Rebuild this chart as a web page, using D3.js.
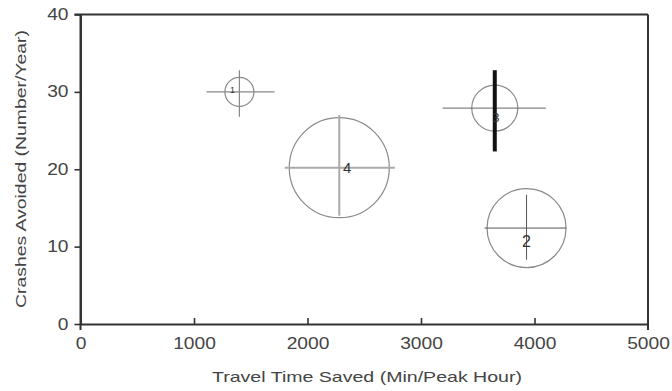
<!DOCTYPE html>
<html>
<head>
<meta charset="utf-8">
<script src="https://cdn.jsdelivr.net/npm/d3@7"></script>
<style>
  body { margin: 0; background: #fff; }
  svg { display: block; font-family: "Liberation Sans", Arial, sans-serif; }
</style>
</head>
<body>
<div id="chart"></div>
<script>
// project ids and values
const projects = ["1", "2", "3", "4"];
const timeSaved = [1400, 3930, 3650, 2280];
const timeLow = [1110, 3560, 3190, 1800];
const timeHigh = [1710, 4280, 4100, 2770];
const crashes = [30, 12.4, 27.9, 20.2];
const crashLow = [26.8, 8.3, 22.3, 14.0];
const crashHigh = [32.8, 16.7, 32.8, 27.0];
const bubbleSize = [210, 1560, 530, 2500];
const xTicks = [0, 1000, 2000, 3000, 4000, 5000];
const yTicks = [0, 10, 20, 30, 40];

const width = 672, height = 391;
const margin = { left: 80.5, right: 24, top: 14.5, bottom: 67 };

const svg = d3.select("#chart").append("svg")
  .attr("width", width)
  .attr("height", height);

const x = d3.scaleLinear().domain([0, 5000]).range([margin.left, width - margin.right]);
const y = d3.scaleLinear().domain([0, 40]).range([height - margin.bottom, margin.top]);
const r = d3.scaleSqrt().domain([0, 2500]).range([0, 50]);

const data = projects.map((p, i) => ({
  id: p, x: timeSaved[i], x0: timeLow[i], x1: timeHigh[i],
  y: crashes[i], y0: crashLow[i], y1: crashHigh[i], s: bubbleSize[i]
}));

// per-bubble look (error bar strokes, label size/offset)
const look = {
  "1": { h: ["#888", 1.2], v: ["#888", 1.2], fs: 9, dx: -7, dy: -1.5 },
  "2": { h: ["#555", 1], v: ["#555", 1], fs: 16, dx: 0, dy: 13 },
  "3": { h: ["#666", 1], v: ["#111", 4], fs: 13, dx: 1, dy: 9 },
  "4": { h: ["#aaa", 2], v: ["#aaa", 2], fs: 15, dx: 8, dy: 0 }
};

// frame
const frame = svg.append("g").attr("stroke", "#333").attr("stroke-width", 2).attr("fill", "none");
frame.append("line").attr("x1", x(0) - 6).attr("x2", x(5000)).attr("y1", y(40)).attr("y2", y(40));
frame.append("line").attr("x1", x(5000)).attr("x2", x(5000)).attr("y1", y(40)).attr("y2", y(0) + 6);
frame.append("line").attr("x1", x(0)).attr("x2", x(0)).attr("y1", y(40)).attr("y2", y(0) + 6);

// axes
const xAxis = svg.append("g")
  .attr("transform", `translate(0,${y(0)})`)
  .call(d3.axisBottom(x).tickValues(xTicks).tickFormat(d3.format("d"))
    .tickSize(-6).tickSizeOuter(0).tickPadding(14));
xAxis.selectAll(".tick line").filter(d => d === 0 || d === 5000).remove();

const yAxis = svg.append("g")
  .attr("transform", `translate(${x(0)},0)`)
  .call(d3.axisLeft(y).tickValues(yTicks).tickSize(6).tickSizeOuter(0).tickPadding(10));

svg.selectAll(".domain").attr("stroke", "#333").attr("stroke-width", 2);
svg.selectAll(".tick line").attr("stroke", "#333").attr("stroke-width", 1.6);
xAxis.selectAll(".tick text")
  .attr("font-size", 16).attr("fill", "#444")
  .attr("transform", "scale(1.2,1)");
yAxis.selectAll(".tick text")
  .attr("font-size", 16).attr("fill", "#444")
  .attr("x", -12 / 1.2)
  .attr("transform", "scale(1.2,1)");

// titles
svg.append("text")
  .attr("x", 367).attr("y", 382)
  .attr("text-anchor", "middle")
  .attr("font-size", 15).attr("fill", "#444")
  .attr("textLength", 310).attr("lengthAdjust", "spacingAndGlyphs")
  .text("Travel Time Saved (Min/Peak Hour)");

svg.append("text")
  .attr("transform", "translate(26,169) rotate(-90)")
  .attr("text-anchor", "middle")
  .attr("font-size", 15).attr("fill", "#444")
  .attr("textLength", 278).attr("lengthAdjust", "spacingAndGlyphs")
  .text("Crashes Avoided (Number/Year)");

// bubbles
const g = svg.selectAll("g.bubble").data(data).enter().append("g").attr("class", "bubble");

g.append("circle")
  .attr("cx", d => x(d.x)).attr("cy", d => y(d.y))
  .attr("r", d => r(d.s))
  .attr("fill", "none").attr("stroke", "#8a8a8a").attr("stroke-width", 1.2);

g.append("line")
  .attr("x1", d => x(d.x0)).attr("x2", d => x(d.x1))
  .attr("y1", d => y(d.y)).attr("y2", d => y(d.y))
  .attr("stroke", d => look[d.id].h[0]).attr("stroke-width", d => look[d.id].h[1]);

g.append("line")
  .attr("x1", d => x(d.x)).attr("x2", d => x(d.x))
  .attr("y1", d => y(d.y0)).attr("y2", d => y(d.y1))
  .attr("stroke", d => look[d.id].v[0]).attr("stroke-width", d => look[d.id].v[1]);

g.append("text")
  .attr("x", d => x(d.x) + look[d.id].dx)
  .attr("y", d => y(d.y) + look[d.id].dy)
  .attr("text-anchor", "middle").attr("dominant-baseline", "central")
  .attr("font-size", d => look[d.id].fs).attr("fill", "#333")
  .text(d => d.id);
</script>
</body>
</html>
